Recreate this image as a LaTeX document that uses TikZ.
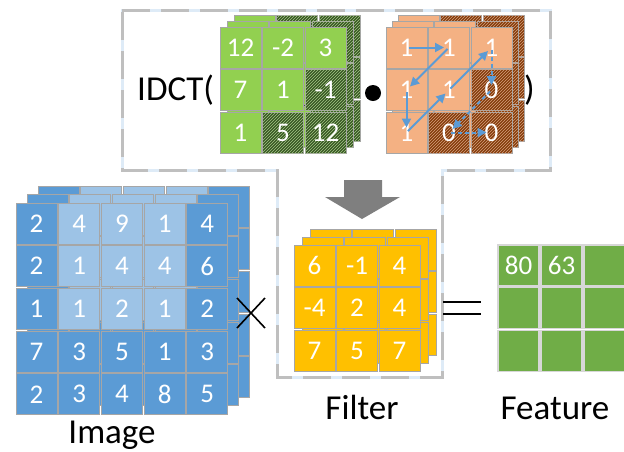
\documentclass[tikz,border=0pt]{standalone}
\usepackage{fontspec}
\setmainfont{Carlito}
\usetikzlibrary{arrows.meta, positioning, patterns}
\definecolor{imgdark}{RGB}{91,155,213}
\definecolor{imglight}{RGB}{157,195,230}
\definecolor{idctgreen}{RGB}{146,208,80}
\definecolor{idctdark}{RGB}{56,87,35}
\definecolor{gline}{RGB}{165,200,135}
\definecolor{maskorange}{RGB}{244,177,131}
\definecolor{maskdark}{RGB}{132,60,12}
\definecolor{oline}{RGB}{215,160,125}
\definecolor{filteryellow}{RGB}{255,192,0}
\definecolor{featgreen}{RGB}{112,173,71}
\definecolor{featline}{RGB}{215,215,215}
\definecolor{zigblue}{RGB}{91,155,213}
\definecolor{cellgray}{RGB}{166,166,166}
\definecolor{arrowgray}{RGB}{127,127,127}
\definecolor{framegray}{RGB}{191,191,191}
\definecolor{frameblue}{RGB}{222,235,247}

\begin{document}
\begin{tikzpicture}[x=1pt, y=-1pt,
  cell/.style={draw=cellgray, line width=0.8pt, minimum size=41pt, inner sep=0pt, text=white, font=\fontsize{27}{30}\selectfont},
  hatch/.style={postaction={pattern=north east lines, pattern color=#1}},
  zz/.style={draw=zigblue, line width=2pt, -{Triangle[length=9pt, width=9pt]}, shorten >=5pt, shorten <=2pt},
  lbl/.style={font=\fontsize{35}{42}\selectfont, inner sep=0pt, anchor=base}
]
  \useasboundingbox (0,0) rectangle (624,451);

  % dashed frame round the IDCT part and the filter
  \draw[frameblue, line width=3pt] (122,10) -- (550,10) -- (550,170) -- (442,170) -- (442,377) -- (277,377) -- (277,170) -- (122,170) -- cycle;
  \draw[framegray, line width=3pt, dash pattern=on 28pt off 11pt] (122,10) -- (550,10) -- (550,170) -- (442,170) -- (442,377) -- (277,377) -- (277,170) -- (122,170) -- cycle;

  % IDCT coefficients
  \foreach \l/\dx/\dy/\k in {3/14/-12/1, 2/7/-6/2}
    \foreach \r in {0,1,2}
      \foreach \c in {0,1,2} {
        \ifnum\c<\k
          \node[cell, fill=idctgreen] (db\l-\r-\c) at ({240.5+42.5*\c+\dx},{47.5+42.5*\r+\dy}) {};
        \else
          \node[cell, fill=idctdark, hatch=gline] (db\l-\r-\c) at ({240.5+42.5*\c+\dx},{47.5+42.5*\r+\dy}) {};
        \fi
      }
  \foreach \row [count=\r from 0] in {{12,-2,3},{7,1,-1},{1,5,12}}
    \foreach \v [count=\c from 0] in \row {
      \pgfmathtruncatemacro\hz{\r+\c>2}
      \ifnum\hz=1
        \node[cell, fill=idctdark, hatch=gline] (d-\r-\c) at ({240.5+42.5*\c},{47.5+42.5*\r}) {\v};
      \else
        \node[cell, fill=idctgreen] (d-\r-\c) at ({240.5+42.5*\c},{47.5+42.5*\r}) {\v};
      \fi
    }

  % zigzag mask
  \foreach \l/\dx/\dy/\k in {3/12/-12/1, 2/6/-6/2}
    \foreach \r in {0,1,2}
      \foreach \c in {0,1,2} {
        \ifnum\c<\k
          \node[cell, fill=maskorange] (mb\l-\r-\c) at ({406.5+42.5*\c+\dx},{47.5+42.5*\r+\dy}) {};
        \else
          \node[cell, fill=maskdark, hatch=oline] (mb\l-\r-\c) at ({406.5+42.5*\c+\dx},{47.5+42.5*\r+\dy}) {};
        \fi
      }
  \foreach \row [count=\r from 0] in {{1,1,1},{1,1,0},{1,0,0}}
    \foreach \v [count=\c from 0] in \row {
      \pgfmathtruncatemacro\hz{\r+\c>2}
      \ifnum\hz=1
        \node[cell, fill=maskdark, hatch=oline] (m-\r-\c) at ({406.5+42.5*\c},{47.5+42.5*\r}) {\v};
      \else
        \node[cell, fill=maskorange] (m-\r-\c) at ({406.5+42.5*\c},{47.5+42.5*\r}) {\v};
      \fi
    }

  \draw[zz] (m-0-0.center) -- (m-0-1.center);
  \draw[zz] (m-0-1.center) -- (m-1-0.center);
  \draw[zz] (m-1-0.center) -- (m-2-0.center);
  \draw[zz] (m-2-0.center) -- (m-1-1.center);
  \draw[zz] (m-1-1.center) -- (m-0-2.center);
  \draw[zz, dash pattern=on 4pt off 3pt] (m-0-2.center) -- (m-1-2.center);
  \draw[zz, dash pattern=on 4pt off 3pt] (m-1-2.center) -- (m-2-1.center);
  \draw[zz, dash pattern=on 4pt off 3pt] (m-2-1.center) -- (m-2-2.center);

  \node[lbl, anchor=base west] (idct) at (137,100) {IDCT(};
  \node[circle, fill=black, minimum size=16pt, inner sep=0pt] (dot) at (373,93) {};
  \node[lbl, anchor=base west] (close) at (524,100) {)};

  % down arrow
  \fill[arrowgray] (344,180) -- (382,180) -- (382,197) -- (400,197) -- (362,219) -- (325,197) -- (344,197) -- cycle;

  % image
  \foreach \l/\dx/\dy in {3/22/-17, 2/11/-9}
    \foreach \r in {0,...,4}
      \foreach \c in {0,...,4} {
        \pgfmathtruncatemacro\islt{(\r<3)&&(\c>0)&&(\c<4)}
        \ifnum\islt=1 \def\fc{imglight}\else\def\fc{imgdark}\fi
        \node[cell, fill=\fc] (imb\l-\r-\c) at ({36.5+42.7*\c+\dx},{223.5+42.7*\r+\dy}) {};
      }
  \foreach \row [count=\r from 0] in {{2,4,9,1,4},{2,1,4,4,6},{1,1,2,1,2},{7,3,5,1,3},{2,3,4,8,5}}
    \foreach \v [count=\c from 0] in \row {
      \pgfmathtruncatemacro\islt{(\r<3)&&(\c>0)&&(\c<4)}
      \ifnum\islt=1 \def\fc{imglight}\else\def\fc{imgdark}\fi
      \node[cell, fill=\fc] (im-\r-\c) at ({36.5+42.7*\c},{223.5+42.7*\r}) {\v};
    }

  % filter
  \foreach \l/\dx/\dy in {3/16/-16, 2/8/-8}
    \foreach \r in {0,1,2}
      \foreach \c in {0,1,2}
        \node[cell, fill=filteryellow] (fb\l-\r-\c) at ({314.5+42.5*\c+\dx},{265.5+42.5*\r+\dy}) {};
  \foreach \row [count=\r from 0] in {{6,-1,4},{-4,2,4},{7,5,7}}
    \foreach \v [count=\c from 0] in \row
      \node[cell, fill=filteryellow] (f-\r-\c) at ({314.5+42.5*\c},{265.5+42.5*\r}) {\v};

  % feature
  \foreach \row [count=\r from 0] in {{80,63,{}},{{},{},{}},{{},{},{}}}
    \foreach \v [count=\c from 0] in \row
      \node[cell, fill=featgreen, draw=featline, line width=1.5pt] (o-\r-\c) at ({518.5+43*\c},{265.5+42.7*\r}) {\v};

  % times and equals
  \draw[line width=1.6pt] (237,298) -- (265,328) (237,328) -- (265,298);
  \draw[line width=2.5pt] (443,302) -- (481,302) (443,314) -- (481,314);

  \node[lbl] (image) at (112,443) {Image};
  \node[lbl] (filter) at (362,419) {Filter};
  \node[lbl] (feature) at (555,419) {Feature};
\end{tikzpicture}
\end{document}
